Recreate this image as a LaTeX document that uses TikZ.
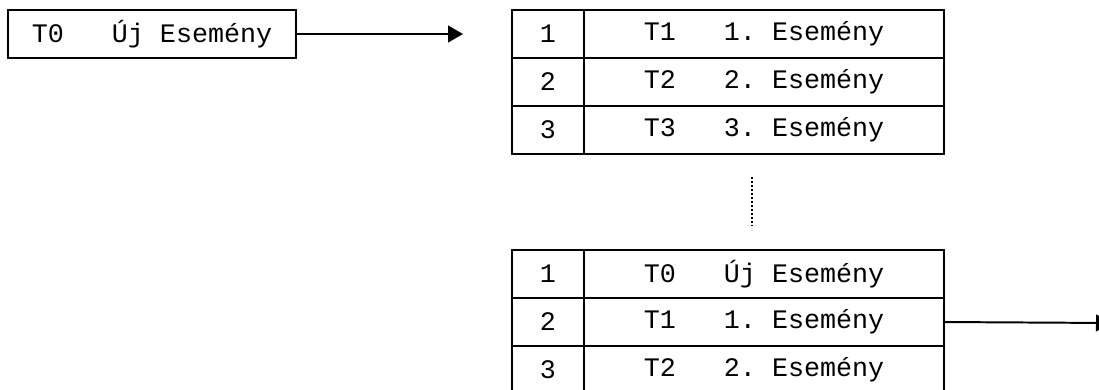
\documentclass[tikz,border=0pt]{standalone}
\usepackage{fontspec}
\setmonofont{Liberation Mono}
\usetikzlibrary{
    arrows.meta,
    positioning
}
\newcommand{\eventfont}{\fontsize{19}{22}\selectfont\ttfamily}
\tikzstyle{cell} = [
    rectangle,
    draw=black,
    line width=1.4pt,
    inner sep=0pt,
    outer sep=0pt,
    minimum height=1.2cm,
    font=\eventfont
]
\tikzstyle{numcell} = [
    cell,
    minimum width=1.8cm
]
\tikzstyle{eventcell} = [
    cell,
    minimum width=9cm
]
\tikzstyle{newevent} = [
    cell,
    minimum width=7.2cm
]
\tikzstyle{arrow} = [
    -{Triangle[length=0.375cm, width=0.42cm]},
    line width=1.4pt
]
\tikzstyle{gap} = [
    line width=1.2pt,
    dash pattern=on 1.3pt off 1.55pt
]

\begin{document}
\begin{tikzpicture}[x=0.025cm, y=-0.025cm]
        \useasboundingbox (0,0) rectangle (1099,389);

        % new event
        \node[newevent] (new) at (152,34) {T0\ \ \ Új Esemény};

        % queue before
        \node[numcell] (a1) at (548,34) {1};
        \node[eventcell, right=0pt of a1] (ea1) {T1\ \ \ 1. Esemény};
        \node[numcell, below=0pt of a1] (a2) {2};
        \node[eventcell, right=0pt of a2] (ea2) {T2\ \ \ 2. Esemény};
        \node[numcell, below=0pt of a2] (a3) {3};
        \node[eventcell, right=0pt of a3] (ea3) {T3\ \ \ 3. Esemény};

        % queue after
        \node[numcell] (b1) at (548,274) {1};
        \node[eventcell, right=0pt of b1] (eb1) {T0\ \ \ Új Esemény};
        \node[numcell, below=0pt of b1] (b2) {2};
        \node[eventcell, right=0pt of b2] (eb2) {T1\ \ \ 1. Esemény};
        \node[numcell, below=0pt of b2] (b3) {3};
        \node[eventcell, right=0pt of b3] (eb3) {T2\ \ \ 2. Esemény};

        \coordinate (in) at (463,34);
        \coordinate (out) at (1111,323);
        \coordinate (gaptop) at (752,177);
        \coordinate (gapbot) at (752,226);

        \draw[arrow] (new) -- (in);
        \draw[arrow] (eb2.east) -- (out);
        \draw[gap] (gaptop) -- (gapbot);
    \end{tikzpicture}
\end{document}
